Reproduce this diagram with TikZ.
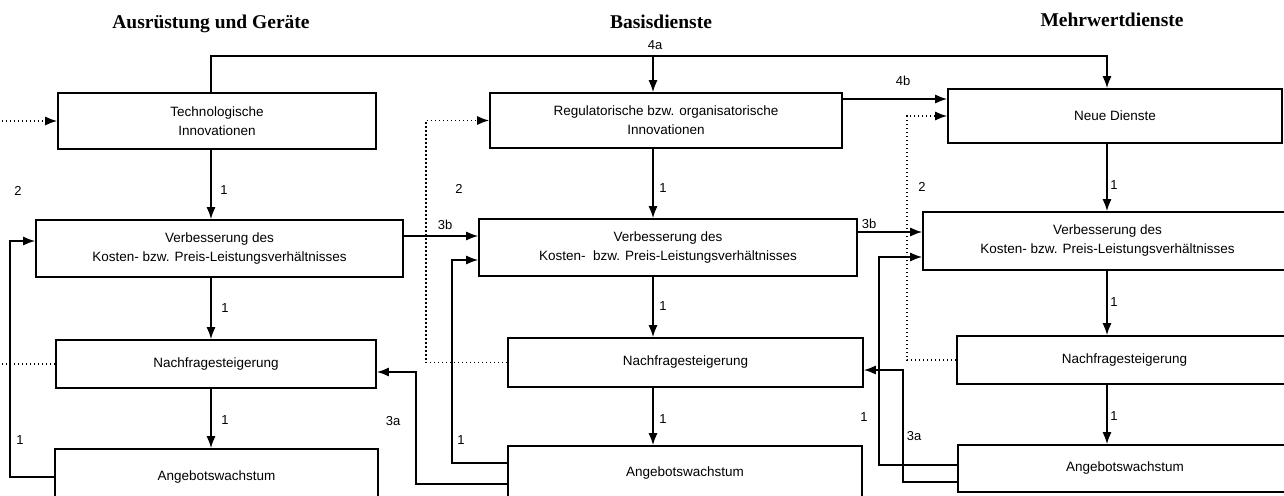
\documentclass[tikz,border=0pt]{standalone}
\usepackage{fontspec}
\setmainfont{Liberation Serif}
\setsansfont{Liberation Sans}
\usetikzlibrary{arrows.meta}

\tikzset{
    box/.style={draw, line width=1.6pt, align=center, inner sep=0pt,
        font=\sffamily\fontsize{13.5}{19}\selectfont},
    arr/.style={line width=1.6pt, -{Latex[length=12pt,width=9pt]}},
    dots/.style={arr, dash pattern=on 1.6pt off 2.4pt},
    lbl/.style={font=\sffamily\fontsize{13}{15}\selectfont, inner sep=0pt},
    head/.style={font=\bfseries\fontsize{19.5}{22}\selectfont, inner sep=0pt},
}

\begin{document}
\begin{tikzpicture}[x=1pt,y=-1pt]
                \useasboundingbox (0,0) rectangle (1284,495);
                % Spalten-Ueberschriften
                \node[head] (hAG) at (211,24) {Ausrüstung und Geräte};
                \node[head] (hBD) at (661,22) {Basisdienste};
                \node[head] (hMD) at (1112,20) {Mehrwertdienste};
                % Kaesten
                \node[box, minimum width=318pt, minimum height=56pt] (T1) at (217,121) {Technologische\\Innovationen};
                \node[box, minimum width=367pt, minimum height=57pt] (V1) at (219.5,248.5) {Verbesserung des\\Kosten- bzw. Preis-Leistungsverhältnisses};
                \node[box, minimum width=320pt, minimum height=48pt] (N1) at (216,364) {Nachfragesteigerung};
                \node[box, minimum width=323pt, minimum height=56pt] (A1) at (216.5,477) {Angebotswachstum};
                \node[box, minimum width=352pt, minimum height=55pt] (T2) at (666,120.5) {Regulatorische bzw. organisatorische\\Innovationen};
                \node[box, minimum width=378pt, minimum height=57pt] (V2) at (668,247.5) {Verbesserung des\\Kosten-\ \ bzw. Preis-Leistungsverhältnisses};
                \node[box, minimum width=355pt, minimum height=49pt] (N2) at (685.5,362.5) {Nachfragesteigerung};
                \node[box, minimum width=354pt, minimum height=54pt] (A2) at (685,473) {Angebotswachstum};
                \node[box, minimum width=334pt, minimum height=54pt] (ND) at (1115,116) {Neue Dienste};
                \node[box, minimum width=369pt, minimum height=58pt] (V3) at (1107.5,241) {Verbesserung des\\Kosten- bzw. Preis-Leistungsverhältnisses};
                \node[box, minimum width=335pt, minimum height=48pt] (N3) at (1124.5,360) {Nachfragesteigerung};
                \node[box, minimum width=334pt, minimum height=47pt] (A3) at (1125,468.5) {Angebotswachstum};
                % Hilfspunkte
                \coordinate (c1) at (211,0);
                \coordinate (c2) at (653,0);
                \coordinate (c3) at (1107,0);
                \coordinate (top) at (0,56);
                \coordinate (d1) at (-6,0);
                \coordinate (d2) at (426,0);
                \coordinate (d3) at (907,0);
                \coordinate (l1) at (10,0);
                \coordinate (l2) at (452,0);
                \coordinate (l3) at (879,0);
                \coordinate (r2) at (416,0);
                \coordinate (r3) at (903,0);
                % senkrechte Pfeile (1)
                \foreach \a/\b/\c in {T1/V1/c1, V1/N1/c1, N1/A1/c1, T2/V2/c2, V2/N2/c2, N2/A2/c2, ND/V3/c3, V3/N3/c3, N3/A3/c3}
                    \draw[arr] (\a.south -| \c) -- (\b.north -| \c);
                % 4a und 4b
                \draw[arr] (T1.north -| c1) |- (top -| c3) -- (ND.north -| c3);
                \draw[arr] (top -| c2) -- (T2.north -| c2);
                \draw[arr] ([yshift=21.5pt]T2.east) -- ([yshift=21.5pt]T2.east -| ND.west);
                % 2 (gepunktet)
                \draw[dots] (N1.west) -- (N1.west -| d1) -- (T1.west -| d1) -- (T1.west);
                \draw[dots] (N2.west) -- (N2.west -| d2) -- (T2.west -| d2) -- (T2.west);
                \draw[dots] (N3.west) -- (N3.west -| d3) -- (ND.west -| d3) -- (ND.west);
                % 1 (Rueckkopplung)
                \draw[arr] (A1.west) -- (A1.west -| l1) -- ([yshift=7.5pt]V1.west -| l1) -- ([yshift=7.5pt]V1.west);
                \draw[arr] ([yshift=10pt]A2.west) -- ([yshift=10pt]A2.west -| l2) -- ([yshift=-12.5pt]V2.west -| l2) -- ([yshift=-12.5pt]V2.west);
                \draw[arr] ([yshift=3.5pt]A3.west) -- ([yshift=3.5pt]A3.west -| l3) -- ([yshift=-16pt]V3.west -| l3) -- ([yshift=-16pt]V3.west);
                % 3b
                \draw[arr] ([yshift=12.5pt]V1.east) -- ([yshift=12.5pt]V1.east -| V2.west);
                \draw[arr] ([yshift=15.5pt]V2.east) -- ([yshift=15.5pt]V2.east -| V3.west);
                % 3a
                \draw[arr] ([yshift=-11pt]A2.west) -- ([yshift=-11pt]A2.west -| r2) -- ([yshift=-8pt]N1.east -| r2) -- ([yshift=-8pt]N1.east);
                \draw[arr] ([yshift=-13.5pt]A3.west) -- ([yshift=-13.5pt]A3.west -| r3) -- ([yshift=-7.5pt]N2.east -| r3) -- ([yshift=-7.5pt]N2.east);
                % Beschriftungen
                \foreach \p [count=\i] in {(224,190),(225,308),(225,420),(20,440),(663,188),(663,306),(663,419),(461,440),(1114,185),(1114,302),(1114,416),(864,417)}
                    \node[lbl] (one\i) at \p {1};
                \foreach \p [count=\i] in {(18,191),(459,189),(922,187)}
                    \node[lbl] (two\i) at \p {2};
                \node[lbl] (l3a1) at (393,421) {3a};
                \node[lbl] (l3a2) at (914,436) {3a};
                \node[lbl] (l3b1) at (445,225) {3b};
                \node[lbl] (l3b2) at (869,224) {3b};
                \node[lbl] (l4a) at (655,45) {4a};
                \node[lbl] (l4b) at (903,81) {4b};
            \end{tikzpicture}
\end{document}
